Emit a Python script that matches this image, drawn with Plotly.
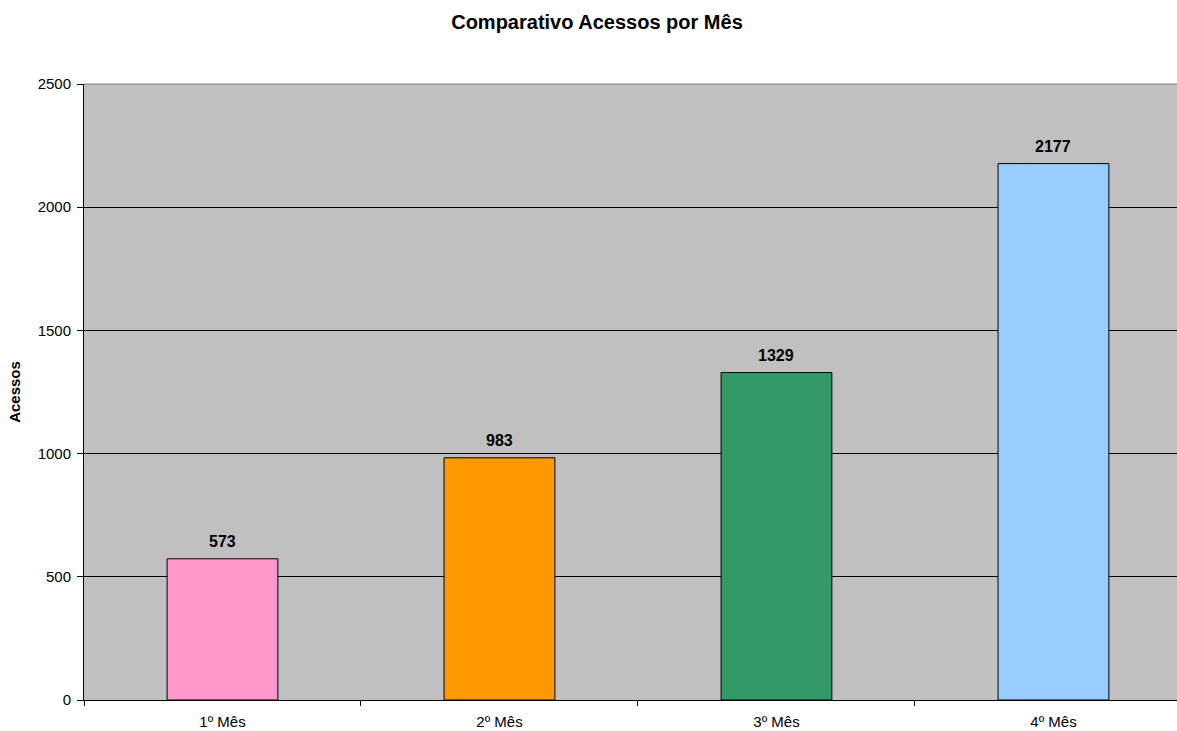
import plotly.graph_objects as go

categories = ["1º Mês", "2º Mês", "3º Mês", "4º Mês"]
values = [573, 983, 1329, 2177]
colors = ["#FF99CC", "#FF9900", "#339966", "#99CCFF"]
y_ticks = [0, 500, 1000, 1500, 2000, 2500]

font_family = "Liberation Sans, Arial, sans-serif"

fig = go.Figure()
fig.add_trace(go.Bar(
    x=categories,
    y=values,
    width=0.4,
    marker=dict(color=colors, line=dict(color="#000000", width=1)),
    hoverinfo="x+y",
))

for c, v in zip(categories, values):
    fig.add_annotation(
        x=c, y=v, text="<b>%d</b>" % v, showarrow=False,
        xanchor="center", yanchor="bottom", yshift=7,
        font=dict(family=font_family, size=16, color="#000000"),
    )

fig.update_layout(
    width=1177,
    height=731,
    margin=dict(l=84, r=0, t=84, b=31),
    paper_bgcolor="#FFFFFF",
    plot_bgcolor="#C0C0C0",
    font=dict(family=font_family, size=15, color="#000000"),
    title=dict(
        text="<b>Comparativo Acessos por Mês</b>",
        x=597 / 1177,
        xanchor="center",
        y=1 - 22 / 731,
        yanchor="middle",
        font=dict(family=font_family, size=20, color="#000000"),
    ),
    showlegend=False,
    bargap=0.6,
)

fig.update_xaxes(
    type="category",
    range=[-0.5, 3.446],
    tickson="boundaries",
    ticks="outside",
    ticklen=5,
    tickcolor="#000000",
    showline=True,
    linecolor="#000000",
    linewidth=1,
    showgrid=False,
    tickfont=dict(size=15),
    ticklabelstandoff=8,
)

fig.update_yaxes(
    range=[0, 2500],
    tickvals=y_ticks,
    ticks="outside",
    ticklen=6,
    tickcolor="#000000",
    showline=True,
    linecolor="#000000",
    linewidth=1,
    showgrid=True,
    gridcolor="#000000",
    gridwidth=1,
    zeroline=False,
    tickfont=dict(size=15),
    ticklabelstandoff=3,
    title=dict(text="<b>Acessos</b>", font=dict(size=15), standoff=13),
)

fig.add_shape(type="line", xref="paper", yref="paper", x0=0, x1=1, y0=1, y1=1,
              line=dict(color="#808080", width=1))

fig.write_html(
    "out.html",
    config={"displayModeBar": False},
    post_script="document.body.style.margin='0';document.body.style.overflow='hidden';",
)
